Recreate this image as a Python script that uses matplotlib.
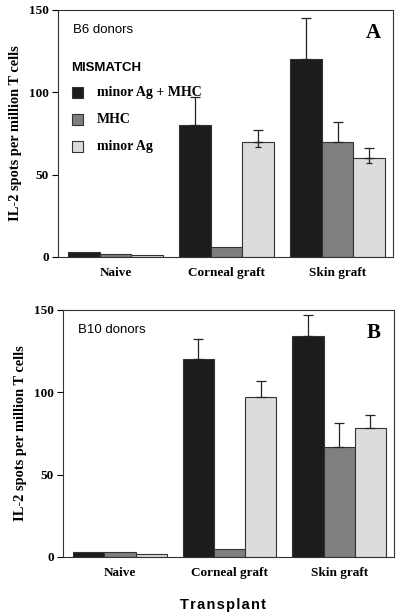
import numpy as np
import matplotlib
matplotlib.use('Agg')
import matplotlib.pyplot as plt
from matplotlib.patches import Rectangle

groups = ['Naive', 'Corneal graft', 'Skin graft']
series = ['minor Ag + MHC', 'MHC', 'minor Ag']
colors = ['#1c1c1c', '#7f7f7f', '#dcdcdc']

# panel A: B6 donors
a_vals = [[3, 80, 120], [2, 6, 70], [1, 70, 60]]
a_err_lo = [[0, 0, 0], [0, 0, 0], [0, 3, 3]]
a_err_hi = [[0, 17, 25], [0, 0, 12], [0, 7, 6]]

# panel B: B10 donors
b_vals = [[3, 120, 134], [3, 5, 67], [2, 97, 78]]
b_err_lo = [[0, 0, 0], [0, 0, 0], [0, 0, 0]]
b_err_hi = [[0, 12, 13], [0, 0, 14], [0, 10, 8]]

yticks = [0, 50, 100, 150]

serif = 'Liberation Serif'
sans = 'Liberation Sans'

fig = plt.figure(figsize=(4, 6.16), dpi=100)
axA = fig.add_axes([0.145, 0.583, 0.8375, 0.401])
axB = fig.add_axes([0.1575, 0.096, 0.8275, 0.401])

x = np.arange(len(groups))
w = 0.285

def draw(ax, vals, lo, hi, donor, letter):
    for k in range(3):
        pos = x + (k - 1) * w
        ax.bar(pos, vals[k], width=w, color=colors[k], edgecolor='#333333',
               linewidth=0.8, zorder=2)
        # upper whisker with cap
        keep = [i for i in range(3) if hi[k][i] > 0]
        if keep:
            ax.errorbar(pos[keep], [vals[k][i] for i in keep],
                        yerr=[[0] * len(keep), [hi[k][i] for i in keep]],
                        fmt='none', ecolor='#222222', elinewidth=0.9,
                        capsize=3.5, capthick=0.9, zorder=3)
        # small lower cap (visible on the light bars)
        keep = [i for i in range(3) if lo[k][i] > 0]
        if keep:
            ax.errorbar(pos[keep], [vals[k][i] for i in keep],
                        yerr=[[lo[k][i] for i in keep], [0] * len(keep)],
                        fmt='none', ecolor='#222222', elinewidth=0.9,
                        capsize=2.5, capthick=0.9, zorder=3)
    ax.set_xlim(-0.52, 2.5)
    ax.set_ylim(0, 150)
    ax.set_yticks(yticks)
    ax.set_xticks(x)
    ax.set_xticklabels(groups, fontfamily=serif, fontweight='bold', fontsize=9.5)
    ax.tick_params(axis='x', length=0, pad=7)
    ax.tick_params(axis='y', direction='out', length=4.5, width=0.8, pad=2)
    for lab in ax.get_yticklabels():
        lab.set_fontfamily(serif)
        lab.set_fontweight('bold')
        lab.set_fontsize(9.5)
    for s in ax.spines.values():
        s.set_linewidth(0.8)
        s.set_color('#333333')
    ax.set_ylabel('IL-2 spots per million T cells', fontfamily=serif,
                  fontweight='bold', fontsize=10.4, labelpad=5)
    ax.text(0.045, 0.92, donor, transform=ax.transAxes, fontfamily=sans,
            fontsize=9.5, va='center', ha='left')
    ax.text(0.94, 0.905, letter, transform=ax.transAxes, fontfamily=serif,
            fontweight='bold', fontsize=15, va='center', ha='center')

draw(axA, a_vals, a_err_lo, a_err_hi, 'B6 donors', 'A')
draw(axB, b_vals, b_err_lo, b_err_hi, 'B10 donors', 'B')

# legend inside panel A
axA.text(0.04, 0.765, 'MISMATCH', transform=axA.transAxes, fontfamily=sans,
         fontweight='bold', fontsize=9.5, va='center', ha='left')
rows = [0.665, 0.555, 0.447]
for k in range(3):
    axA.add_patch(Rectangle((0.042, rows[k] - 0.022), 0.032, 0.044,
                            transform=axA.transAxes, facecolor=colors[k],
                            edgecolor='#333333', linewidth=0.8, zorder=4))
    axA.text(0.116, rows[k], series[k], transform=axA.transAxes,
             fontfamily=serif, fontweight='bold', fontsize=10,
             va='center', ha='left')

fig.text(0.557, 0.018, '\u200a'.join('Transplant'), family=[sans, 'DejaVu Sans'],
         fontweight='bold', fontsize=10.5, ha='center', va='center')

fig.savefig('out.png', dpi=100)
